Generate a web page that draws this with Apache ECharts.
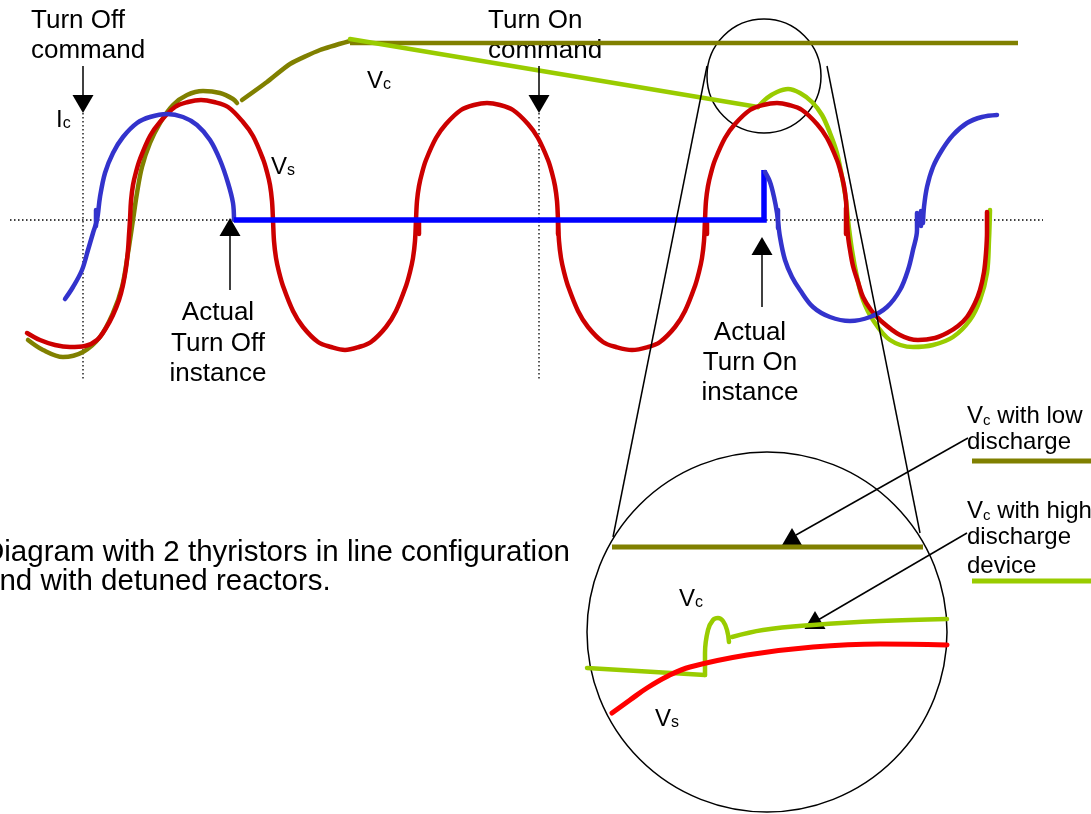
<!DOCTYPE html>
<html>
<head>
<meta charset="utf-8">
<script src="https://cdn.jsdelivr.net/npm/echarts@6/dist/echarts.min.js"></script>
<style>
html, body { margin: 0; padding: 0; background: #fff; }
#chart { width: 1091px; height: 814px; }
</style>
</head>
<body>
<div id="chart"></div>
<script>
// diagram space: x = time axis, y = level (inverted), zero line at y = 220
var zeroLine = [[10, 220], [1043, 220]];
var commandMarks = [[[83, 113], [83, 381]], [[539, 113], [539, 381]]];

// Vs, supply voltage
var vsWave = [
    [27, 333], [40, 340], [55, 345], [70, 347], [85, 346], [97, 340], [106, 328], [113, 315], [119, 300], [123, 285],
    [126, 268], [128, 250], [129, 235], [130, 220],
    [131, 201], [133, 185], [136, 172], [140, 159], [150, 136], [160, 122], [175, 107], [188, 102], [201, 100],
    [214, 102], [228, 107], [243, 122], [253, 136], [263, 159], [267, 172], [270, 185], [272, 201], [273, 220],
    [274, 241], [276, 258], [279, 272], [283, 286], [293, 311], [303, 327], [318, 342], [331, 347], [345, 350],
    [359, 347], [371, 342], [386, 327], [396, 311], [406, 286], [410, 272], [413, 258], [415, 241], [416, 220],
    [417, 201], [419, 186], [422, 173], [426, 160], [436, 138], [446, 124], [461, 110], [474, 105], [487, 103],
    [500, 105], [513, 110], [528, 124], [538, 138], [548, 160], [552, 173], [555, 186], [557, 201], [558, 220],
    [559, 241], [561, 258], [564, 272], [568, 286], [578, 311], [588, 327], [603, 342], [616, 347], [632, 350],
    [648, 347], [660, 342], [675, 327], [685, 311], [695, 286], [699, 272], [702, 258], [704, 241], [705, 220],
    [706, 201], [708, 186], [711, 173], [715, 160], [725, 138], [735, 124], [750, 110], [763, 105], [777, 103],
    [789, 105], [802, 110], [817, 124], [827, 138], [837, 160], [841, 173], [844, 186], [846, 201], [847, 220],
    [848, 236], [850, 250], [853, 266], [858, 282], [863, 297], [871, 310], [880, 320], [900, 335], [918, 340],
    [935, 338], [947, 333], [958, 326], [967, 317], [975, 303], [980, 290], [984, 272], [986, 253], [987, 232], [987, 212]
];
var vsTicks = [[[419, 220], [419, 234]], [[558, 222], [558, 234]], [[707, 222], [707, 234]], [[846, 208], [846, 234]]];

// Vc with low discharge
var vcLowWave = [
    [28, 340], [43, 350], [63, 357], [83, 352], [100, 337], [113, 313], [122, 287], [128, 253], [133, 220], [137, 193],
    [142, 167], [150, 143], [160, 123], [173, 105], [187, 95], [203, 91], [220, 93], [233, 99], [237, 103]
];
var vcLowRise = [[242, 100], [267, 82], [290, 64], [320, 50], [350, 41]];
var vcLowFlat = [[350, 43], [1018, 43]];

// Vc with high discharge device
var vcHighRamp = [[350, 39], [758, 107]];
var vcHighWave = [
    [758, 107], [767, 98], [777, 92], [788, 89], [800, 93], [812, 102], [822, 115], [830, 133], [837, 153], [842, 177],
    [846, 200], [848, 220], [852, 250], [857, 277], [863, 300], [873, 320], [890, 340], [913, 347], [933, 345], [953, 337],
    [970, 320], [980, 300], [987, 273], [989, 240], [990, 210]
];

// Ic, capacitor current
var icWave1 = [
    [65, 299], [73, 287], [82, 270], [88, 250], [93, 233], [97, 220], [100, 197], [105, 173], [113, 153], [123, 137],
    [137, 123], [150, 117], [167, 114], [183, 117], [197, 125], [210, 140], [220, 160], [228, 183], [233, 203], [234, 220]
];
var icFlat = [[234, 220], [764, 220], [764, 170]];
var icWave2 = [
    [765, 172], [770, 182], [774, 197], [777, 213], [780, 237], [785, 260], [792, 277], [800, 290], [813, 307], [830, 317],
    [850, 321], [870, 317], [887, 307], [900, 290], [908, 270], [913, 250], [917, 230], [917, 213]
];
var icWave3 = [[923, 223], [924, 207], [927, 187], [933, 167], [942, 150], [953, 135], [967, 123], [982, 117], [997, 115]];
var icTicks = [[[96, 210], [96, 226]], [[778, 210], [778, 228]], [[921, 211], [921, 226]]];

// magnified view
var zoomCircles = [[764, 76, 57], [767, 632, 180]];
var zoomEdges = [[[707, 66], [613, 537]], [[827, 66], [920, 533]]];
var zoomVcLow = [[612, 547], [923, 547]];
var zoomVcHighFlat = [[587, 668], [705, 675]];
var zoomVcHighBump = [[705, 675], [705, 653], [708, 630], [713, 620], [718, 618], [723, 621], [727, 630], [729, 642]];
var zoomVcHighTail = [[732, 637], [763, 630], [813, 625], [880, 621], [947, 619]];
var zoomVs = [[612, 713], [630, 700], [647, 688], [668, 676], [690, 667], [747, 655], [813, 647], [880, 644], [947, 645]];

var legendLow = [[972, 461], [1091, 461]];
var legendHigh = [[972, 581], [1091, 581]];

// arrows: shaft and tip
var arrowShafts = [
    [[83, 66], [83, 97]], [[539, 66], [539, 97]], [[230, 290], [230, 235]],
    [[762, 307], [762, 254]], [[968, 438], [796, 535]], [[967, 533], [818, 620]]
];
var arrowTips = [[83, 113, 'down'], [539, 113, 'down'], [230, 218, 'up'], [762, 237, 'up'], [792, 528, 'up'], [815, 611, 'up']];

// texts
var commandLabels = [[31, 21, 'Turn Off'], [31, 51, 'command'], [488, 21, 'Turn On'], [488, 51, 'command']];
var instanceLabels = [
    [218, 313, 'Actual'], [218, 344, 'Turn Off'], [218, 374, 'instance'],
    [750, 333, 'Actual'], [750, 363, 'Turn On'], [750, 393, 'instance']
];
var signalLabels = [[56, 118, 'I_c'], [271, 165, 'V_s'], [367, 79, 'V_c'], [679, 597, 'V_c'], [655, 717, 'V_s']];
var legendLabels = [
    [967, 414, 'V_c with low'], [967, 440, 'discharge'],
    [967, 509, 'V_c with high'], [967, 535, 'discharge'], [967, 564, 'device']
];
var captionLines = [[-17, 553, 'Diagram with 2 thyristors in line configuration'], [-17, 582, 'and with detuned reactors.']];

var FONT = '"Liberation Sans", Arial, sans-serif';
var series = [];

var line = function (data, color, width, smooth, extra) {
    var s = {
        type: 'line',
        data: data,
        smooth: smooth || false,
        symbol: 'none',
        silent: true,
        animation: false,
        lineStyle: { color: color, width: width, cap: 'round', join: 'round' }
    };
    if (extra) {
        for (var k in extra) s.lineStyle[k] = extra[k];
    }
    series.push(s);
};

var richText = function (str) {
    var parts = str.split(/_(\w)/);
    var out = '';
    for (var i = 0; i < parts.length; i++) {
        if (parts[i] === '') continue;
        out += (i % 2 === 0 ? '{v|' : '{s|') + parts[i] + '}';
    }
    return out;
};

var texts = function (items, align, size, subSize) {
    series.push({
        type: 'scatter',
        silent: true,
        animation: false,
        clip: false,
        symbolSize: 1,
        itemStyle: { color: 'transparent', opacity: 1 },
        emphasis: { disabled: true },
        data: items.map(function (t) {
            var str = subSize ? richText(t[2]) : t[2];
            return {
                value: [t[0], t[1]],
                label: {
                    show: true,
                    position: 'inside',
                    align: align,
                    verticalAlign: 'middle',
                    color: '#000',
                    fontFamily: FONT,
                    fontSize: size,
                    formatter: function () { return str; },
                    rich: subSize ? {
                        v: { fontSize: size, fontFamily: FONT, color: '#000', verticalAlign: 'bottom', lineHeight: size + 4 },
                        s: { fontSize: subSize, fontFamily: FONT, color: '#000', verticalAlign: 'bottom', lineHeight: size + 4 }
                    } : undefined
                }
            };
        })
    });
};

// reference lines
line(zeroLine, '#000', 1.3, false, { type: [1.5, 2.5], cap: 'butt' });
commandMarks.forEach(function (m) { line(m, '#000', 1.3, false, { type: [1.5, 2.5], cap: 'butt' }); });

// waveforms
line(vcLowWave, '#808000', 4.5, 0.35);
line(vcLowRise, '#808000', 4.5, 0.2);
line(vcLowFlat, '#808000', 4.5, false, { cap: 'butt' });
line(vcHighRamp, '#99CC00', 4.5);
line(vcHighWave, '#99CC00', 4.5, 0.35);
line(vsWave, '#CC0000', 4.5, 0.35);
vsTicks.forEach(function (t) { line(t, '#CC0000', 4.5); });
line(icWave1, '#3333CC', 4.5, 0.35);
line(icFlat, '#0000FF', 5.5, false, { cap: 'butt', join: 'miter' });
line(icWave2, '#3333CC', 4.5, 0.35);
line(icWave3, '#3333CC', 4.5, 0.35);
icTicks.forEach(function (t) { line(t, '#3333CC', 4.5); });

// magnifier
zoomEdges.forEach(function (e) { line(e, '#000', 1.5, false, { cap: 'butt' }); });
series.push({
    type: 'scatter',
    silent: true,
    animation: false,
    data: zoomCircles,
    symbol: 'circle',
    symbolSize: function (v) { return v[2] * 2; },
    itemStyle: { color: 'transparent', borderColor: '#000', borderWidth: 1.5, opacity: 1 },
    emphasis: { disabled: true }
});
line(zoomVcLow, '#808000', 5, false, { cap: 'butt' });
line(zoomVcHighFlat, '#99CC00', 4.5);
line(zoomVcHighBump, '#99CC00', 4.5, 0.4);
line(zoomVcHighTail, '#99CC00', 4.5, 0.4);
line(zoomVs, '#FF0000', 5, 0.4);
line(legendLow, '#808000', 5, false, { cap: 'butt' });
line(legendHigh, '#99CC00', 5, false, { cap: 'butt' });

// arrows
arrowShafts.forEach(function (a) { line(a, '#000', 1.5, false, { cap: 'butt' }); });
series.push({
    type: 'scatter',
    silent: true,
    animation: false,
    emphasis: { disabled: true },
    data: arrowTips.map(function (t) {
        var down = t[2] === 'down';
        return {
            value: [t[0], t[1]],
            symbolRotate: down ? 180 : 0,
            symbolOffset: [0, down ? -9 : 9]
        };
    }),
    symbol: 'triangle',
    symbolSize: [21, 18],
    itemStyle: { color: '#000', opacity: 1 }
});

// texts
texts(commandLabels, 'left', 26);
texts(instanceLabels, 'center', 26);
texts(signalLabels, 'left', 24, 16);
texts(legendLabels, 'left', 24, 15);
texts(captionLines, 'left', 29.5);

var chart = echarts.init(document.getElementById('chart'), null, { renderer: 'canvas' });
chart.setOption({
    animation: false,
    backgroundColor: '#fff',
    grid: { left: 0, right: 0, top: 0, bottom: 0 },
    xAxis: { type: 'value', min: 0, max: 1091, show: false },
    yAxis: { type: 'value', min: 0, max: 814, inverse: true, show: false },
    series: series
});
</script>
</body>
</html>
